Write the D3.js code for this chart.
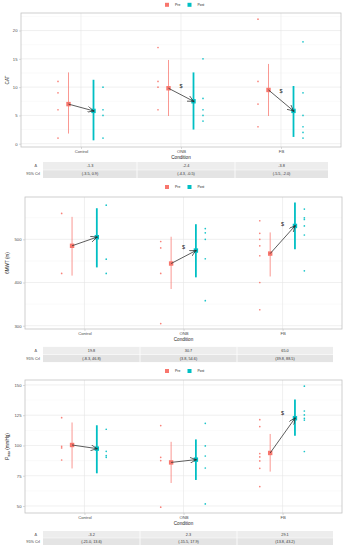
<!DOCTYPE html>
<html><head><meta charset="utf-8">
<script src="https://cdn.jsdelivr.net/npm/d3@7"></script>
<style>body{margin:0;background:#fff}svg{display:block;font-family:"Liberation Sans",Arial,sans-serif}</style>
</head><body><svg id="c" width="345" height="550"></svg>
<script>
const categories = ["Control", "ONB", "FB"];
const groups = ["Pre", "Post"];
const groupColors = ["#F8766D", "#00BFC4"];
const rowLabels = ["Δ", "95% CrI"];

// Panel 1: CAT
const catTicks = [0, 5, 10, 15, 20];
const catMeanPre = [7.0, 9.8, 9.5];
const catMeanPost = [5.8, 7.5, 5.8];
const catLoPre = [1.8, 4.9, 4.9];
const catHiPre = [12.6, 14.8, 14.1];
const catLoPost = [0.6, 2.5, 1.2];
const catHiPost = [11.3, 12.6, 10.2];
const catPtsPre = [[11, 9, 6, 1], [17, 11, 10, 6], [22, 11, 7, 3]];
const catPtsPost = [[10, 6, 5, 1], [15, 8, 6, 5, 4], [18, 9, 5, 3, 2, 1]];
const catSig = [null, 10.2, 9.3];
const catDelta = ["-1.3", "-2.4", "-3.8"];
const catCrI = ["(-3.5, 0.9)", "(-4.3, -0.5)", "(-5.5, -2.0)"];

// Panel 2: 6MWT
const mwtTicks = [300, 400, 500];
const mwtMeanPre = [485, 444, 467];
const mwtMeanPost = [505, 474, 531];
const mwtLoPre = [416, 385, 414];
const mwtHiPre = [552, 506, 516];
const mwtLoPost = [435, 412, 477];
const mwtHiPost = [572, 535, 585];
const mwtPtsPre = [[560, 421], [495, 480, 421, 305], [543, 514, 500, 485, 462, 400, 337]];
const mwtPtsPost = [[579, 454, 421], [525, 515, 500, 455, 358], [570, 550, 546, 531, 510, 427]];
const mwtSig = [null, 483, 535];
const mwtDelta = ["19.8", "30.7", "65.0"];
const mwtCrI = ["(-8.3, 46.8)", "(3.8, 54.6)", "(39.8, 88.5)"];

// Panel 3: Pmax
const pmTicks = [50, 75, 100, 125, 150];
const pmMeanPre = [100.4, 86.0, 93.8];
const pmMeanPost = [97.4, 88.3, 122.5];
const pmLoPre = [81, 69, 78.4];
const pmHiPre = [119, 103, 109.5];
const pmLoPost = [77, 71.5, 108];
const pmHiPost = [116.7, 105, 137.9];
const pmPtsPre = [[123, 99.3, 98, 88], [116.4, 90.2, 87.5, 49], [121.3, 115.6, 93.3, 90.5, 87.2, 81.1, 66]];
const pmPtsPost = [[113.4, 95.2, 91.6, 90.2], [118.3, 99.6, 91.3, 81.4, 51.7], [149, 128.5, 125.2, 122.5, 121, 95]];
const pmSig = [null, null, 127];
const pmDelta = ["-3.2", "2.3", "29.1"];
const pmCrI = ["(-21.0, 13.6)", "(-15.5, 17.9)", "(13.8, 43.2)"];

const svg = d3.select("#c");
svg.append("defs").append("marker")
  .attr("id", "arr").attr("viewBox", "0 0 10 10").attr("refX", 10).attr("refY", 5)
  .attr("markerWidth", 6).attr("markerHeight", 6).attr("markerUnits", "userSpaceOnUse")
  .attr("orient", "auto")
  .append("path").attr("d", "M0,0 L10,5 L0,10").attr("fill", "none").attr("stroke", "#333").attr("stroke-width", 1.2);

function panel(o) {
  const g = svg.append("g");
  const x = d3.scalePoint().domain(categories).range([o.left, o.right]).padding(0.6);
  const step = x.step();
  const y = d3.scaleLinear().domain(o.domain).range([o.bottom, o.top]);

  // legend
  const lg = g.append("g").attr("transform", `translate(0,${o.legY})`);
  groups.forEach((gr, i) => {
    const lx = [165, 187.5][i];
    lg.append("rect").attr("x", lx).attr("y", -2).attr("width", 4).attr("height", 4).attr("fill", groupColors[i]);
    lg.append("text").attr("x", lx + 10).attr("y", 1.3).attr("font-size", 3.4).attr("fill", "#222").text(gr);
  });

  // grid
  const minor = [];
  for (let i = 0; i < o.ticks.length - 1; i++) minor.push((o.ticks[i] + o.ticks[i + 1]) / 2);
  minor.push(o.ticks[0] - (o.ticks[1] - o.ticks[0]) / 2, o.ticks[o.ticks.length - 1] + (o.ticks[1] - o.ticks[0]) / 2);
  g.selectAll(".mn").data(minor.filter(v => v >= o.domain[0] && v <= o.domain[1])).join("line")
    .attr("x1", o.left).attr("x2", o.right).attr("y1", d => y(d)).attr("y2", d => y(d))
    .attr("stroke", "#f4f4f4").attr("stroke-width", 0.5);
  g.selectAll(".mj").data(o.ticks).join("line")
    .attr("x1", o.left).attr("x2", o.right).attr("y1", d => y(d)).attr("y2", d => y(d))
    .attr("stroke", "#e6e6e6").attr("stroke-width", 0.6);
  g.selectAll(".vg").data(categories).join("line")
    .attr("x1", d => x(d)).attr("x2", d => x(d)).attr("y1", o.top).attr("y2", o.bottom)
    .attr("stroke", "#e6e6e6").attr("stroke-width", 0.6);

  // axes
  const ya = g.append("g").attr("transform", `translate(${o.left},0)`)
    .call(d3.axisLeft(y).tickValues(o.ticks).tickSize(2).tickPadding(1.5));
  ya.select(".domain").remove();
  ya.selectAll("line").attr("stroke", "#b3b3b3").attr("stroke-width", 0.5);
  ya.selectAll("text").attr("font-size", 4.2).attr("fill", "#4d4d4d").attr("font-family", "Liberation Sans, Arial, sans-serif");
  const xa = g.append("g").attr("transform", `translate(0,${o.bottom})`)
    .call(d3.axisBottom(x).tickSize(2).tickPadding(1.5));
  xa.select(".domain").remove();
  xa.selectAll("line").attr("stroke", "#b3b3b3").attr("stroke-width", 0.5);
  xa.selectAll("text").attr("font-size", 4.2).attr("fill", "#4d4d4d").attr("font-family", "Liberation Sans, Arial, sans-serif");

  g.append("rect").attr("x", o.left).attr("y", o.top).attr("width", o.right - o.left).attr("height", o.bottom - o.top)
    .attr("fill", "none").attr("stroke", "#c4c4c4").attr("stroke-width", 0.8);

  // axis titles
  g.append("text").attr("x", (o.left + o.right) / 2).attr("y", o.bottom + 11.5).attr("text-anchor", "middle")
    .attr("font-size", 4.6).attr("fill", "#222").text("Condition");
  const yt = g.append("text").attr("transform", `translate(8.5,${(o.top + o.bottom) / 2}) rotate(-90)`)
    .attr("text-anchor", "middle").attr("font-size", 4.6).attr("fill", "#222");
  if (o.ysub) {
    yt.append("tspan").text(o.ylab);
    yt.append("tspan").attr("font-size", 3).attr("dy", 1.2).text(o.ysub);
    yt.append("tspan").attr("dy", -1.2).text(o.ylab2);
  } else yt.text(o.ylab);

  const series = [
    {mean: o.meanPre, lo: o.loPre, hi: o.hiPre, pts: o.ptsPre, c: groupColors[0], off: -0.125, poff: -0.23, w: 1, op: 0.75},
    {mean: o.meanPost, lo: o.loPost, hi: o.hiPost, pts: o.ptsPost, c: groupColors[1], off: 0.125, poff: 0.22, w: 1.8, op: 1}
  ];
  series.forEach(s => {
    categories.forEach((cat, i) => {
      const cx = x(cat) + s.off * step;
      g.append("line").attr("x1", cx).attr("x2", cx).attr("y1", y(s.lo[i])).attr("y2", y(s.hi[i]))
        .attr("stroke", s.c).attr("stroke-width", s.w).attr("stroke-opacity", s.op);
      g.selectAll(null).data(s.pts[i]).join("circle")
        .attr("cx", x(cat) + s.poff * step).attr("cy", d => y(d)).attr("r", 0.85)
        .attr("fill", s.c).attr("fill-opacity", 0.9);
      g.append("rect").attr("x", cx - 2.2).attr("y", y(s.mean[i]) - 2.2).attr("width", 4.4).attr("height", 4.4)
        .attr("fill", s.c);
    });
  });
  categories.forEach((cat, i) => {
    g.append("line")
      .attr("x1", x(cat) - 0.125 * step).attr("y1", y(o.meanPre[i]))
      .attr("x2", x(cat) + 0.125 * step).attr("y2", y(o.meanPost[i]))
      .attr("stroke", "#333").attr("stroke-width", 0.8).attr("marker-end", "url(#arr)");
    g.append("circle").attr("cx", x(cat) + 0.125 * step).attr("cy", y(o.meanPost[i])).attr("r", 0.9).attr("fill", "#1a3a3a");
    if (o.sig[i] != null) {
      g.append("text").attr("x", x(cat)).attr("y", y(o.sig[i]) + 2).attr("text-anchor", "middle")
        .attr("font-size", 5.5).attr("fill", "#222").text("$");
    }
  });

  // table
  const tb = g.append("g");
  const cols = [o.tabL, o.tabC1, o.tabC2, o.tabR];
  const rows = [o.row1, o.row2];
  const rh = rows[1] - rows[0];
  const vals = [o.delta, o.cri];
  rows.forEach((ry, r) => {
    tb.append("rect").attr("x", o.tabL).attr("y", ry - rh / 2).attr("width", o.tabR - o.tabL).attr("height", rh)
      .attr("fill", r === 0 ? "#ededed" : "#e4e4e4");
    tb.append("text").attr("x", r === 0 ? o.tabL - 6 : o.tabL - 3).attr("y", ry + 1.4).attr("text-anchor", "end")
      .attr("font-size", 3.8).attr("fill", "#333").text(rowLabels[r]);
    categories.forEach((cat, i) => {
      tb.append("text").attr("x", (cols[i] + cols[i + 1]) / 2).attr("y", ry + 1.4).attr("text-anchor", "middle")
        .attr("font-size", 3.8).attr("fill", "#333").text(vals[r][i]);
    });
  });
  tb.append("line").attr("x1", o.tabL).attr("x2", o.tabR).attr("y1", rows[0] + rh / 2).attr("y2", rows[0] + rh / 2)
    .attr("stroke", "#fff").attr("stroke-width", 0.5);
  [cols[1], cols[2]].forEach(cx => tb.append("line").attr("x1", cx).attr("x2", cx)
    .attr("y1", rows[0] - rh / 2).attr("y2", rows[1] + rh / 2).attr("stroke", "#fff").attr("stroke-width", 0.8));
}

panel({legY: 4.8, left: 21, right: 341, top: 13, bottom: 147, domain: [-0.58, 23.1], ticks: catTicks,
  ylab: "CAT", meanPre: catMeanPre, meanPost: catMeanPost, loPre: catLoPre, hiPre: catHiPre,
  loPost: catLoPost, hiPost: catHiPost, ptsPre: catPtsPre, ptsPost: catPtsPost, sig: catSig,
  delta: catDelta, cri: catCrI, tabL: 43, tabC1: 137, tabC2: 235, tabR: 328, row1: 166, row2: 174});

panel({legY: 187, left: 25, right: 342, top: 197, bottom: 329, domain: [292.4, 598], ticks: mwtTicks,
  ylab: "6MWT (m)", meanPre: mwtMeanPre, meanPost: mwtMeanPost, loPre: mwtLoPre, hiPre: mwtHiPre,
  loPost: mwtLoPost, hiPost: mwtHiPost, ptsPre: mwtPtsPre, ptsPost: mwtPtsPost, sig: mwtSig,
  delta: mwtDelta, cri: mwtCrI, tabL: 43, tabC1: 140, tabC2: 237, tabR: 333, row1: 350.7, row2: 358.3});

panel({legY: 371, left: 25, right: 342, top: 380, bottom: 513, domain: [44.2, 154.1], ticks: pmTicks,
  ylab: "P", ysub: "max", ylab2: " (mmHg)", meanPre: pmMeanPre, meanPost: pmMeanPost, loPre: pmLoPre, hiPre: pmHiPre,
  loPost: pmLoPost, hiPost: pmHiPost, ptsPre: pmPtsPre, ptsPost: pmPtsPost, sig: pmSig,
  delta: pmDelta, cri: pmCrI, tabL: 43, tabC1: 140, tabC2: 237, tabR: 333, row1: 534.5, row2: 541.5});
</script></body></html>
